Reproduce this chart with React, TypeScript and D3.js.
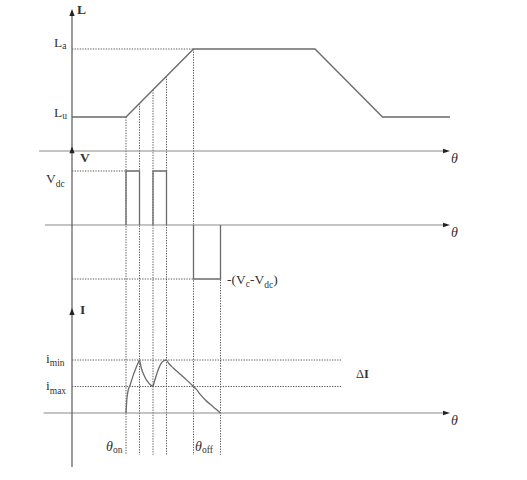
import React, { useRef, useEffect } from 'react';
import * as d3 from 'd3';

// 電気角 (rotor angle) positions
const lTheta = [0, 20, 45, 90, 115, 140];
const lValue = [1, 1, 3, 3, 1, 1];

const switchTheta = [20, 25, 30, 35, 45];
const offEnd = 55;

// voltage pulses
const pulseStart = [20, 30, 45];
const pulseEnd = [25, 35, 55];
const pulseLevel = [1, 1, -1];

// current, one monotone piece per switching interval
const iSegTheta = [
  [20, 20.3, 20.8, 21.5, 22.6, 23.7, 25],
  [25, 25.8, 26.8, 28, 29, 30],
  [30, 31, 32, 33, 34, 35],
  [35, 36, 37.5, 40, 42.5, 45],
  [45, 46, 47.5, 49.5, 51.5, 53.5, 55],
];
const iSegValue = [
  [0, 0.5, 0.85, 1.05, 1.4, 1.7, 2.0],
  [2.0, 1.65, 1.4, 1.18, 1.07, 1.0],
  [1.0, 1.35, 1.65, 1.87, 1.97, 2.0],
  [2.0, 1.85, 1.7, 1.47, 1.24, 1.0],
  [1.0, 0.9, 0.7, 0.48, 0.3, 0.13, 0],
];
const iBand = [2, 1]; // i_min, i_max levels
const iBandEnd = 100;

const W = 527;
const H = 480;

const App: React.FC = () => {
  const svgRef = useRef<SVGSVGElement | null>(null);

  useEffect(() => {
    if (!svgRef.current) return;
    const root = d3.select(svgRef.current);
    root.selectAll('*').remove();

    const font = '"Liberation Serif", "DejaVu Serif", serif';
    const axisCol = '#8a8a8a';
    const lineCol = '#6a6a6a';
    const dotCol = '#444';
    const textCol = '#333';

    const x = d3.scaleLinear().domain([0, 140]).range([72, 450]);
    const yL = d3.scaleLinear().domain([0, 1]).range([151, 117]);
    const yV = d3.scaleLinear().domain([0, 1]).range([225, 171]);
    const yI = d3.scaleLinear().domain([0, 1]).range([413, 386.5]);

    const svg = root.append('g');

    const dotted = (x1: number, y1: number, x2: number, y2: number) =>
      svg.append('line')
        .attr('x1', x1).attr('y1', y1).attr('x2', x2).attr('y2', y2)
        .attr('stroke', dotCol).attr('stroke-width', 0.9)
        .attr('stroke-dasharray', '1.3,1.3');

    // L curve value at angle (for where the dotted guides start)
    const lAt = d3.scaleLinear().domain(lTheta.slice(0, 3)).range(lValue.slice(0, 3));

    // 垂直の点線
    switchTheta.forEach(t => dotted(x(t), yL(lAt(t)), x(t), yI(-1.58)));
    dotted(x(offEnd), yV(0), x(offEnd), yI(-1.58));

    // 水平の点線
    dotted(x(0), yL(3), x(45), yL(3));
    dotted(x(0), yV(1), x(20), yV(1));
    dotted(x(0), yV(-1), x(45), yV(-1));
    iBand.forEach(v => dotted(x(0), yI(v), x(iBandEnd), yI(v)));

    // 横軸
    const hAxis = (y: number, t0: number) => {
      svg.append('line')
        .attr('x1', x(t0)).attr('y1', y).attr('x2', x(140) - 3).attr('y2', y)
        .attr('stroke', axisCol).attr('stroke-width', 1.1);
      svg.append('path')
        .attr('d', `M${x(140)},${y}L${x(140) - 7},${y - 2.3}L${x(140) - 7},${y + 2.3}Z`)
        .attr('fill', '#222');
      svg.append('text')
        .attr('x', x(140) + 1).attr('y', y + 12)
        .attr('font-family', font).attr('font-style', 'italic')
        .attr('font-size', 14).attr('fill', textCol)
        .text('θ');
    };
    hAxis(yL(0), -12.2);
    hAxis(yV(0), -10);
    hAxis(yI(0), -10.5);

    // 縦軸
    svg.append('line')
      .attr('x1', x(0)).attr('y1', yL(4.1)).attr('x2', x(0)).attr('y2', yI(-2.04))
      .attr('stroke', '#666').attr('stroke-width', 1.3);
    [yL(4.18), yV(1.46), yI(3.96)].forEach(y => {
      svg.append('path')
        .attr('d', `M${x(0)},${y}L${x(0) - 2.6},${y + 7}L${x(0) + 2.6},${y + 7}Z`)
        .attr('fill', '#222');
    });

    // L(θ)
    svg.append('path')
      .datum(d3.zip(lTheta, lValue))
      .attr('d', d3.line<number[]>().x(d => x(d[0])).y(d => yL(d[1])))
      .attr('fill', 'none').attr('stroke', lineCol).attr('stroke-width', 1.3);

    // V(θ) パルス
    const vLine = d3.line<number[]>().x(d => x(d[0])).y(d => yV(d[1]));
    pulseStart.forEach((s, k) => {
      const e = pulseEnd[k];
      const lv = pulseLevel[k];
      svg.append('path')
        .datum([[s, 0], [s, lv], [e, lv], [e, 0]])
        .attr('d', vLine)
        .attr('fill', 'none').attr('stroke', lineCol).attr('stroke-width', 1.3);
    });

    // I(θ)
    const iLine = d3.line<number[]>()
      .x(d => x(d[0])).y(d => yI(d[1]))
      .curve(d3.curveMonotoneX);
    iSegTheta.forEach((ts, k) => {
      svg.append('path')
        .datum(d3.zip(ts, iSegValue[k]))
        .attr('d', iLine)
        .attr('fill', 'none').attr('stroke', lineCol).attr('stroke-width', 1.3);
    });

    // ラベル
    const label = (
      px: number, py: number, main: string, sub?: string,
      opts: { bold?: boolean; italic?: boolean; size?: number; subDy?: number } = {}
    ) => {
      const t = svg.append('text')
        .attr('x', px).attr('y', py)
        .attr('font-family', font).attr('font-size', opts.size ?? 13.5)
        .attr('fill', textCol);
      const m = t.append('tspan').text(main);
      if (opts.bold) m.attr('font-weight', 'bold');
      if (opts.italic) m.attr('font-style', 'italic');
      if (sub) t.append('tspan').attr('font-size', 9.5).attr('dy', opts.subDy ?? 3).text(sub);
      return t;
    };

    label(77, 14, 'L', undefined, { bold: true });
    label(80, 162, 'V', undefined, { bold: true });
    label(80, 314, 'I', undefined, { bold: true });

    label(54, 47, 'L', 'a', { subDy: 2 });
    label(54, 117, 'L', 'u', { subDy: 2 });
    label(46, 183, 'V', 'dc', { subDy: 4 });
    label(46, 363, 'i', 'min', { subDy: 3 });
    label(46, 390, 'i', 'max', { subDy: 4 });
    label(106, 451, 'θ', 'on', { italic: true, size: 14, subDy: 2 });
    label(195, 451, 'θ', 'off', { italic: true, size: 14, subDy: 2 });

    // -(Vc-Vdc)
    const neg = svg.append('text')
      .attr('x', 227).attr('y', 284)
      .attr('font-family', font).attr('font-size', 13.5).attr('fill', textCol);
    neg.append('tspan').text('-(V');
    neg.append('tspan').attr('font-size', 9.5).attr('dy', 3).text('c');
    neg.append('tspan').attr('dy', -3).text('-V');
    neg.append('tspan').attr('font-size', 9.5).attr('dy', 4).text('dc');
    neg.append('tspan').attr('dy', -4).text(')');

    // ΔI
    const di = svg.append('text')
      .attr('x', 356).attr('y', 378)
      .attr('font-family', font).attr('font-size', 12.5).attr('fill', textCol);
    di.append('tspan').text('Δ');
    di.append('tspan').attr('font-weight', 'bold').text('I');
  }, []);

  return (
    <svg
      ref={svgRef}
      width={W}
      height={H}
      style={{ position: 'absolute', left: 0, top: 0, background: '#fff' }}
    />
  );
};

export default App;
